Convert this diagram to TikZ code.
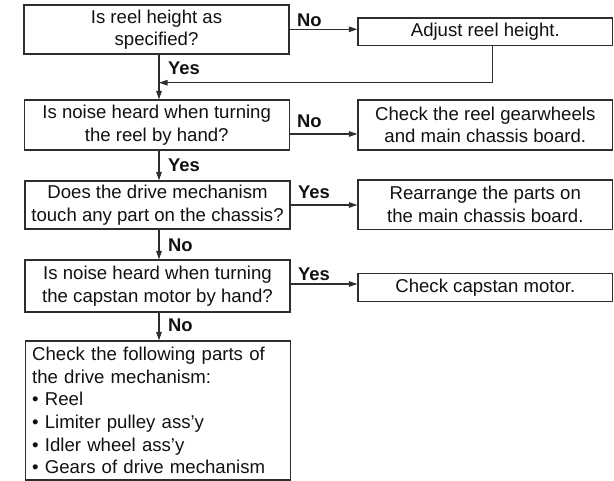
\documentclass[tikz,border=0pt]{standalone}
\usepackage{fontspec}
\setmainfont{Liberation Sans}
\usetikzlibrary{arrows.meta}
\definecolor{linecol}{HTML}{2E2E2E}
\definecolor{textcol}{HTML}{111111}
\begin{document}
\begin{tikzpicture}[x=1pt,y=-1pt,
  box/.style={draw=linecol, line width=1.2pt, inner sep=0pt, align=center,
    text=textcol, font=\fontsize{18.6}{22.5}\selectfont},
  qbox/.style={box, minimum width=265pt},
  abox/.style={box, minimum width=254.7pt},
  lbl/.style={font=\bfseries\fontsize{18.4}{22}\selectfont, inner sep=0pt,
    anchor=base west, text=textcol},
  flow/.style={draw=linecol, line width=1.2pt, -{Triangle[length=8.5pt,width=5.5pt]}},
]
\useasboundingbox (0,0) rectangle (614,481);

% question column
\node[qbox, minimum height=49pt] (q1) at (156.5,29.5) {Is reel height as\\specified?};
\node[qbox, minimum height=50pt] (q2) at (156.7,125) {Is noise heard when turning\\the reel by hand?};
\node[qbox, minimum height=48pt] (q3) at (157.5,205) {Does the drive mechanism\\touch any part on the chassis?};
\node[qbox, minimum height=52pt] (q4) at (157.5,286) {Is noise heard when turning\\the capstan motor by hand?};
\node[qbox, minimum height=139pt, align=left, text width=251pt,
  font=\fontsize{18.6}{22.64}\selectfont] (q5) at (157.7,410.5)
  {Check the following parts of\\the drive mechanism:\\\textbullet\ Reel\\\textbullet\ Limiter pulley ass’y\\\textbullet\ Idler wheel ass’y\\\textbullet\ Gears of drive mechanism};

% action column
\node[abox, minimum height=27.4pt] (a1) at (485.3,31.8) {Adjust reel height.};
\node[abox, minimum height=50pt] (a2) at (485.3,125) {Check the reel gearwheels\\and main chassis board.};
\node[abox, minimum height=49.3pt] (a3) at (485.3,204.6) {Rearrange the parts on\\the main chassis board.};
\node[abox, minimum height=28.4pt] (a4) at (485.3,287.5) {Check capstan motor.};

% junctions on the main flow line
\coordinate (j1) at (159,82.7);
\coordinate (r1) at (492.7,82.7);

% main vertical flow
\draw[flow] (q1.south -| j1) -- (q2.north -| j1);
\draw[flow] (q2.south -| j1) -- (q3.north -| j1);
\draw[flow] (q3.south -| j1) -- (q4.north -| j1);
\draw[flow] (q4.south -| j1) -- (q5.north -| j1);

% side branches
\draw[flow] ([yshift=0.2pt]q1.east) -- ([yshift=0.2pt]q1.east -| a1.west);
\draw[flow] (a1.south -| r1) -- (r1) -- (j1);
\draw[flow] ([yshift=-9pt]q2.east) -- ([yshift=-9pt]q2.east -| a2.west);
\draw[flow] (q3.east) -- (q3.east -| a3.west);
\draw[flow] ([yshift=2pt]q4.east) -- ([yshift=2pt]q4.east -| a4.west);

% branch labels
\node[lbl] (l1) at (297,26.5) {No};
\node[lbl] (l2) at (168,74.5) {Yes};
\node[lbl] (l3) at (297,128) {No};
\node[lbl] (l4) at (168,172) {Yes};
\node[lbl] (l5) at (298,199) {Yes};
\node[lbl] (l6) at (168,252) {No};
\node[lbl] (l7) at (298,281) {Yes};
\node[lbl] (l8) at (168,332) {No};
\end{tikzpicture}
\end{document}
